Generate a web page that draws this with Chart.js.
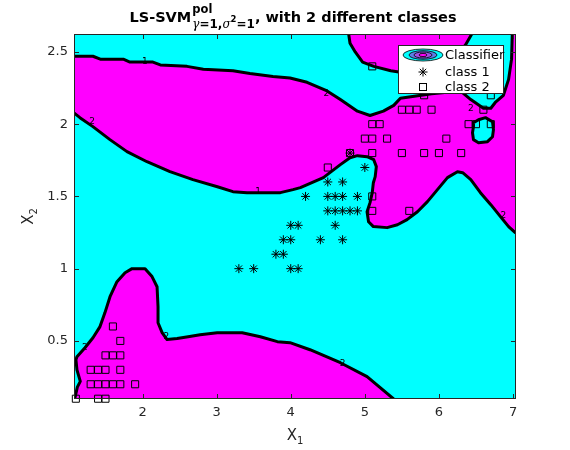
<!DOCTYPE html>
<html>
<head>
<meta charset="utf-8">
<script src="https://cdn.jsdelivr.net/npm/chart.js"></script>
<style>
  body { margin: 0; background: #fff; }
</style>
</head>
<body>
<canvas id="chart" width="570" height="450"></canvas>
<script>
// values, in axis units
const xTicks = [2, 3, 4, 5, 6, 7];
const yTicks = [0.5, 1, 1.5, 2, 2.5];

// class 1 samples (*)
const class1X = [3.3, 3.5, 4.0, 4.1, 3.8, 3.9, 3.9, 4.0, 4.4, 4.7, 4.0, 4.1, 4.6,
                 4.5, 4.6, 4.7, 4.8, 4.9, 4.2, 4.5, 4.6, 4.7, 4.9, 4.5, 4.7, 5.0, 4.8];
const class1Y = [1.0, 1.0, 1.0, 1.0, 1.1, 1.1, 1.2, 1.2, 1.2, 1.2, 1.3, 1.3, 1.3,
                 1.4, 1.4, 1.4, 1.4, 1.4, 1.5, 1.5, 1.5, 1.5, 1.5, 1.6, 1.6, 1.7, 1.8];

// class 2 samples (squares)
const class2X = [1.6, 1.7, 1.5, 1.6, 1.7, 1.3, 1.4, 1.5, 1.7, 1.3, 1.4, 1.5, 1.6, 1.7, 1.9,
                 1.1, 1.4, 1.5,
                 5.1, 5.8, 6.7, 5.5, 5.6, 5.7, 5.9, 6.6, 5.1, 5.2, 6.4, 6.5, 6.7,
                 5.0, 5.1, 5.3, 6.1, 4.8, 5.1, 5.5, 5.8, 6.0, 6.3, 4.5, 5.1, 5.1, 5.6];
const class2Y = [0.6, 0.5, 0.4, 0.4, 0.4, 0.3, 0.3, 0.3, 0.3, 0.2, 0.2, 0.2, 0.2, 0.2, 0.2,
                 0.1, 0.1, 0.1,
                 2.4, 2.2, 2.2, 2.1, 2.1, 2.1, 2.1, 2.1, 2.0, 2.0, 2.0, 2.0, 2.0,
                 1.9, 1.9, 1.9, 1.9, 1.8, 1.8, 1.8, 1.8, 1.8, 1.8, 1.7, 1.5, 1.4, 1.4];

// classifier = 2 regions (cyan), traced [x, y]; parts beyond the axes close the shapes
const upperCyan = [
  [0.9, 2.8], [4.78, 2.8], [4.78, 2.63], [4.80, 2.56], [4.87, 2.50], [4.97, 2.43],
  [5.12, 2.40], [5.35, 2.37], [5.48, 2.36], [5.89, 2.38], [6.22, 2.47], [6.36, 2.55],
  [6.45, 2.63], [6.45, 2.8], [6.99, 2.8], [6.99, 2.63], [6.98, 2.45], [6.94, 2.31],
  [6.87, 2.20], [6.76, 2.15], [6.70, 2.11], [6.60, 2.11], [6.43, 2.17], [6.29, 2.23],
  [5.90, 2.21], [5.48, 2.18], [5.39, 2.13], [5.25, 2.09], [5.07, 2.06], [4.90, 2.09],
  [4.67, 2.17], [4.49, 2.23], [4.22, 2.29], [3.99, 2.32], [3.76, 2.33], [3.45, 2.35],
  [3.22, 2.37], [2.82, 2.38], [2.60, 2.40], [2.24, 2.41], [2.14, 2.43], [1.83, 2.43],
  [1.74, 2.45], [1.43, 2.45], [1.33, 2.47], [1.07, 2.47], [0.9, 2.47]
];
const middleCyan = [
  [0.9, 2.08], [1.07, 2.08], [1.155, 2.045], [1.33, 1.983], [1.56, 1.893], [1.79, 1.81],
  [2.06, 1.74], [2.37, 1.671], [2.68, 1.616], [3.01, 1.567], [3.22, 1.533], [3.41, 1.526],
  [3.86, 1.526], [4.03, 1.547], [4.13, 1.561], [4.44, 1.63], [4.67, 1.72], [4.80, 1.768],
  [4.90, 1.782], [5.03, 1.775], [5.12, 1.754], [5.155, 1.706], [5.14, 1.637], [5.115, 1.595],
  [5.10, 1.526], [5.07, 1.457], [5.03, 1.394], [5.05, 1.325], [5.115, 1.291], [5.30, 1.284],
  [5.44, 1.304], [5.57, 1.339], [5.71, 1.394], [5.845, 1.464], [5.98, 1.547], [6.115, 1.63],
  [6.25, 1.671], [6.32, 1.664], [6.43, 1.616], [6.56, 1.526], [6.70, 1.443], [6.83, 1.36],
  [6.94, 1.291], [7.03, 1.249], [7.2, 1.249], [7.2, -0.1], [5.385, -0.1], [5.385, 0.10],
  [5.03, 0.253], [4.67, 0.349], [4.26, 0.439], [3.99, 0.488], [3.82, 0.495], [3.59, 0.529],
  [3.345, 0.557], [3.007, 0.557], [2.777, 0.543], [2.615, 0.529], [2.466, 0.516], [2.331, 0.509],
  [2.264, 0.557], [2.209, 0.626], [2.209, 0.737], [2.196, 0.875], [2.128, 0.945], [2.034, 1.0],
  [1.858, 1.0], [1.764, 0.972], [1.655, 0.91], [1.561, 0.806], [1.493, 0.696], [1.426, 0.599],
  [1.331, 0.522], [1.223, 0.453], [1.115, 0.391], [1.101, 0.37], [1.115, 0.30], [1.16, 0.22],
  [1.12, 0.18], [1.09, 0.11], [0.9, 0.11]
];
const islandCyan = [
  [6.466, 2.01], [6.534, 2.031], [6.628, 2.045], [6.723, 2.017], [6.736, 1.962], [6.723, 1.913],
  [6.655, 1.879], [6.534, 1.872], [6.466, 1.893], [6.453, 1.941], [6.466, 1.983], [6.466, 2.01]
];

// contour level labels
const levelText = ['1', '2', '1', '2', '2', '2', '2', '2', '2'];
const levelX = [2.03, 1.32, 3.56, 4.48, 6.43, 1.22, 2.32, 4.70, 6.87];
const levelY = [2.43, 2.02, 1.53, 2.21, 2.11, 0.45, 0.53, 0.34, 1.37];

const legendLabels = ['Classifier', 'class 1', 'class 2'];

const CYAN = '#00ffff';
const MAGENTA = '#ff00ff';
const AXIS = '#262626';

function pts(list) { return list.map(p => ({x: p[0], y: p[1]})); }

function region(list) {
  return {
    data: pts(list), showLine: true, fill: 'shape', backgroundColor: CYAN,
    borderColor: '#000', borderWidth: 3, borderJoinStyle: 'round', borderCapStyle: 'round',
    pointRadius: 0, tension: 0, clip: 0, order: 1
  };
}

function star(ctx, x, y, r) {
  const d = r * Math.SQRT1_2;
  ctx.beginPath();
  ctx.moveTo(x - r, y); ctx.lineTo(x + r, y);
  ctx.moveTo(x, y - r); ctx.lineTo(x, y + r);
  ctx.moveTo(x - d, y - d); ctx.lineTo(x + d, y + d);
  ctx.moveTo(x - d, y + d); ctx.lineTo(x + d, y - d);
  ctx.stroke();
}

const backdrop = {
  id: 'backdrop',
  beforeDatasetsDraw(chart) {
    const {ctx, chartArea: a} = chart;
    ctx.save();
    ctx.fillStyle = MAGENTA;
    ctx.fillRect(a.left, a.top, a.right - a.left, a.bottom - a.top);
    ctx.restore();
  }
};

const decor = {
  id: 'decor',
  afterDatasetsDraw(chart) {
    const {ctx, chartArea: a, scales: {x, y}} = chart;
    ctx.save();

    // contour labels
    ctx.fillStyle = '#000';
    ctx.font = '9px "DejaVu Sans"';
    ctx.textAlign = 'center';
    ctx.textBaseline = 'middle';
    levelText.forEach((t, i) => ctx.fillText(t, x.getPixelForValue(levelX[i]), y.getPixelForValue(levelY[i])));

    // box and inward ticks
    ctx.strokeStyle = AXIS;
    ctx.lineWidth = 1;
    ctx.strokeRect(a.left + 0.5, a.top + 0.5, a.right - a.left - 1, a.bottom - a.top - 1);
    ctx.beginPath();
    xTicks.forEach(v => {
      const px = Math.round(x.getPixelForValue(v)) + 0.5;
      ctx.moveTo(px, a.bottom); ctx.lineTo(px, a.bottom - 5);
      ctx.moveTo(px, a.top); ctx.lineTo(px, a.top + 5);
    });
    yTicks.forEach(v => {
      const py = Math.round(y.getPixelForValue(v)) + 0.5;
      ctx.moveTo(a.left, py); ctx.lineTo(a.left + 5, py);
      ctx.moveTo(a.right, py); ctx.lineTo(a.right - 5, py);
    });
    ctx.stroke();

    // legend
    const lx = a.right - 118, ly = a.top + 11, lw = 105, lh = 48;
    ctx.fillStyle = '#fff';
    ctx.fillRect(lx, ly, lw, lh);
    ctx.strokeStyle = AXIS;
    ctx.strokeRect(lx + 0.5, ly + 0.5, lw, lh);
    const ix = lx + 25;
    const rows = [ly + 10, ly + 27, ly + 42];
    const rings = [[20, 6, CYAN], [14, 4.3, '#5b7fe6'], [9, 3, '#a050e6'], [4, 1.6, MAGENTA]];
    rings.forEach(r => {
      ctx.beginPath();
      ctx.ellipse(ix, rows[0], r[0], r[1], 0, 0, Math.PI * 2);
      ctx.fillStyle = r[2];
      ctx.fill();
      ctx.lineWidth = 0.8;
      ctx.strokeStyle = '#000';
      ctx.stroke();
    });
    ctx.lineWidth = 1;
    ctx.strokeStyle = '#000';
    star(ctx, ix, rows[1], 4.5);
    ctx.strokeRect(ix - 3.5, rows[2] - 3.5, 7, 7);
    ctx.fillStyle = '#000';
    ctx.font = '13px "DejaVu Sans"';
    ctx.textAlign = 'left';
    ctx.textBaseline = 'middle';
    legendLabels.forEach((t, i) => ctx.fillText(t, lx + 47, rows[i] + 0.5));
    ctx.restore();
  },
  afterDraw(chart) {
    const {ctx, chartArea: a} = chart;
    const cx = (a.left + a.right) / 2;
    ctx.save();
    ctx.fillStyle = '#000';
    ctx.textBaseline = 'alphabetic';
    ctx.textAlign = 'left';

    // title: LS-SVM^pol_{gamma=1,sigma^2=1}, with 2 different classes
    const big = 'bold 14.5px "DejaVu Sans"';
    const supF = 'bold 11.5px "DejaVu Sans"';
    const subF = 'bold 12px "DejaVu Sans"';
    const subI = 'italic 12px "DejaVu Serif"';
    const tinyF = 'bold 8.5px "DejaVu Sans"';
    const subParts = [['\u03b3', subI, 0], ['=1,', subF, 0], ['\u03c3', subI, 0], ['2', tinyF, -6], ['=1', subF, 0]];
    const w = (t, f) => { ctx.font = f; return ctx.measureText(t).width; };
    const head = 'LS-SVM', tail = ', with 2 different classes';
    const wHead = w(head, big), wSup = w('pol', supF);
    const wSub = subParts.reduce((s, p) => s + w(p[0], p[1]), 0);
    const wTail = w(tail, big);
    const total = wHead + 1 + Math.max(wSup, wSub) + wTail;
    let tx = cx - 2 - total / 2;
    const base = 22;
    ctx.font = big; ctx.fillText(head, tx, base);
    tx += wHead + 1;
    ctx.font = supF; ctx.fillText('pol', tx, base - 9);
    let sx = tx;
    subParts.forEach(p => { ctx.font = p[1]; ctx.fillText(p[0], sx, base + 6 + p[2]); sx += ctx.measureText(p[0]).width; });
    tx += Math.max(wSup, wSub);
    ctx.font = big; ctx.fillText(tail, tx, base);

    // axis labels X_1 and X_2
    ctx.fillStyle = AXIS;
    const lab = '15px "DejaVu Sans"', labSub = '10px "DejaVu Sans"';
    const wX = w('X', lab), w1 = w('1', labSub);
    const x0 = cx - (wX + w1) / 2;
    ctx.font = lab; ctx.fillText('X', x0, 440);
    ctx.font = labSub; ctx.fillText('1', x0 + wX, 444);

    ctx.translate(33, (a.top + a.bottom) / 2);
    ctx.rotate(-Math.PI / 2);
    const y0 = -(wX + w1) / 2;
    ctx.font = lab; ctx.fillText('X', y0, 0);
    ctx.font = labSub; ctx.fillText('2', y0 + wX, 4);
    ctx.restore();
  }
};

const tickFont = {family: 'DejaVu Sans', size: 13};

new Chart(document.getElementById('chart').getContext('2d'), {
  type: 'scatter',
  data: {
    datasets: [
      {label: 'class 1', data: class1X.map((v, i) => ({x: v, y: class1Y[i]})), pointStyle: 'star',
       pointRadius: 4.5, borderColor: '#000', borderWidth: 1, clip: false, order: 0},
      {label: 'class 2', data: class2X.map((v, i) => ({x: v, y: class2Y[i]})), pointStyle: 'rect',
       pointRadius: 5, backgroundColor: 'rgba(0,0,0,0)', borderColor: '#000', borderWidth: 1, clip: false, order: 0},
      region(upperCyan),
      region(middleCyan),
      region(islandCyan)
    ]
  },
  options: {
    responsive: false,
    animation: false,
    layout: {padding: {top: 34, right: 54, left: 0, bottom: 0}},
    plugins: {legend: {display: false}, tooltip: {enabled: false}, title: {display: false}},
    scales: {
      x: {
        type: 'linear', min: 1.075, max: 7.04,
        afterBuildTicks: s => { s.ticks = xTicks.map(v => ({value: v})); },
        afterFit: s => { s.height = 51; },
        grid: {display: false, drawTicks: false}, border: {display: false},
        ticks: {font: tickFont, color: AXIS, padding: 6, maxRotation: 0, callback: v => String(v)}
      },
      y: {
        type: 'linear', min: 0.098, max: 2.624,
        afterBuildTicks: s => { s.ticks = yTicks.map(v => ({value: v})); },
        afterFit: s => { s.width = 74; },
        grid: {display: false, drawTicks: false}, border: {display: false},
        ticks: {font: tickFont, color: AXIS, padding: 6, callback: v => String(v)}
      }
    }
  },
  plugins: [backdrop, decor]
});
</script>
</body>
</html>
